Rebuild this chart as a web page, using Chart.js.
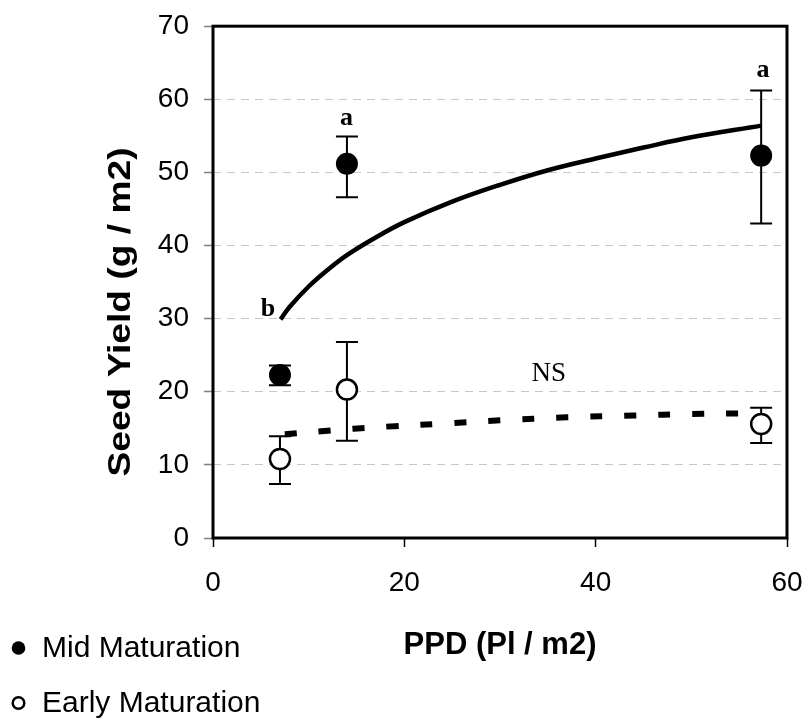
<!DOCTYPE html>
<html>
<head>
<meta charset="utf-8">
<script src="https://cdn.jsdelivr.net/npm/chart.js@4.4.1/dist/chart.umd.min.js"></script>
<style>
  html, body { margin: 0; padding: 0; background: #fff; }
  #wrap { width: 806px; height: 719px; }
</style>
</head>
<body>
<div id="wrap"><canvas id="chart"></canvas></div>
<script>
// plant density (x) for the measured points
const PPD = [7, 14, 57.3];

// mid maturation: mean and error bar ends
const MID_YIELD = [22.3, 51.2, 52.3];
const MID_LOW = [20.9, 46.6, 43.0];
const MID_HIGH = [23.6, 54.9, 61.2];

// early maturation
const EARLY_YIELD = [10.8, 20.3, 15.6];
const EARLY_LOW = [7.4, 13.3, 13.0];
const EARLY_HIGH = [13.9, 26.8, 17.8];

// fitted curves
const MID_FIT_X = [7.06, 8, 10, 12, 14, 17, 20, 25, 30, 35, 40, 45, 50, 57.3];
const MID_FIT_Y = [29.9, 31.6, 34.4, 36.7, 38.7, 41.1, 43.2, 46.0, 48.3, 50.3, 51.9, 53.4, 54.8, 56.4];
const EARLY_FIT_X = [7.5, 11.3, 14.7, 19, 24, 30, 37, 44, 50, 55.5];
const EARLY_FIT_Y = [14.2, 14.6, 14.95, 15.3, 15.65, 16.1, 16.5, 16.75, 16.95, 17.05];

// significance letters
const NOTE_TEXT = ['a', 'a', 'b', 'NS'];
const NOTE_X = [13.96, 57.5, 5.74, 35.1];
const NOTE_Y = [57.4, 64.0, 31.3, 22.5];
const NOTE_BOLD = [true, true, true, false];

const LEGEND_LABELS = ['Mid Maturation', 'Early Maturation'];

const SANS = '"Liberation Sans", Arial, sans-serif';
const SERIF = '"Liberation Serif", "Times New Roman", serif';

const toPoints = (xs, ys) => xs.map((x, i) => ({ x: x, y: ys[i] }));

const decorations = {
  id: 'decorations',
  beforeDatasetsDraw: (chart) => {
    const { ctx, chartArea, scales: { x, y } } = chart;
    ctx.save();
    // plot frame
    ctx.strokeStyle = '#000';
    ctx.lineWidth = 3;
    ctx.strokeRect(chartArea.left, chartArea.top, chartArea.right - chartArea.left, chartArea.bottom - chartArea.top);

    // error bars
    ctx.lineWidth = 2;
    [[MID_LOW, MID_HIGH], [EARLY_LOW, EARLY_HIGH]].forEach(([lo, hi]) => {
      PPD.forEach((v, i) => {
        const px = x.getPixelForValue(v);
        const top = y.getPixelForValue(hi[i]);
        const bot = y.getPixelForValue(lo[i]);
        ctx.beginPath();
        ctx.moveTo(px, top);
        ctx.lineTo(px, bot);
        ctx.moveTo(px - 11, top);
        ctx.lineTo(px + 11, top);
        ctx.moveTo(px - 11, bot);
        ctx.lineTo(px + 11, bot);
        ctx.stroke();
      });
    });
    ctx.restore();
  },
  afterDraw: (chart) => {
    const { ctx, scales: { x, y } } = chart;
    ctx.save();
    ctx.fillStyle = '#000';
    ctx.textAlign = 'center';
    ctx.textBaseline = 'middle';

    NOTE_TEXT.forEach((t, i) => {
      ctx.font = (NOTE_BOLD[i] ? 'bold 26px ' : '27px ') + SERIF;
      ctx.fillText(t, x.getPixelForValue(NOTE_X[i]), y.getPixelForValue(NOTE_Y[i]));
    });

    // y axis title, a bit below the middle of the axis and drawn long
    ctx.save();
    ctx.translate(121, 312);
    ctx.rotate(-Math.PI / 2);
    ctx.font = 'bold 31px ' + SANS;
    const w = ctx.measureText('Seed Yield (g / m2)').width;
    ctx.scale(329 / w, 1);
    ctx.fillText('Seed Yield (g / m2)', 0, 0);
    ctx.restore();

    // legend, stacked at the bottom left
    ctx.textAlign = 'left';
    ctx.font = '30px ' + SANS;
    ctx.beginPath();
    ctx.arc(18.5, 648, 6.8, 0, 2 * Math.PI);
    ctx.fill();
    ctx.fillText(LEGEND_LABELS[0], 42, 649);

    ctx.beginPath();
    ctx.lineWidth = 2.5;
    ctx.strokeStyle = '#000';
    ctx.arc(18.5, 703, 5.8, 0, 2 * Math.PI);
    ctx.stroke();
    ctx.fillText(LEGEND_LABELS[1], 42, 704);
    ctx.restore();
  },
};

new Chart(document.getElementById('chart'), {
  type: 'scatter',
  data: {
    datasets: [
      {
        label: 'Mid fit',
        data: toPoints(MID_FIT_X, MID_FIT_Y),
        showLine: true,
        borderColor: '#000',
        borderWidth: 4.5,
        pointRadius: 0,
        tension: 0.4,
        order: 2,
      },
      {
        label: 'Early fit',
        data: toPoints(EARLY_FIT_X, EARLY_FIT_Y),
        showLine: true,
        borderColor: '#000',
        borderWidth: 6,
        borderDash: [12, 22],
        borderCapStyle: 'butt',
        pointRadius: 0,
        tension: 0.4,
        order: 2,
      },
      {
        label: LEGEND_LABELS[0],
        data: toPoints(PPD, MID_YIELD),
        pointRadius: 11,
        pointBackgroundColor: '#000',
        pointBorderColor: '#000',
        pointBorderWidth: 0,
        order: 1,
      },
      {
        label: LEGEND_LABELS[1],
        data: toPoints(PPD, EARLY_YIELD),
        pointRadius: 10,
        pointBackgroundColor: '#fff',
        pointBorderColor: '#000',
        pointBorderWidth: 2.5,
        order: 1,
      },
    ],
  },
  plugins: [decorations],
  options: {
    responsive: true,
    maintainAspectRatio: false,
    animation: false,
    layout: { padding: { top: 0, right: 19, left: 0, bottom: 0 } },
    plugins: {
      legend: { display: false },
      tooltip: { enabled: false },
    },
    scales: {
      x: {
        type: 'linear',
        min: 0,
        max: 60,
        afterFit: (s) => { s.height = 181; },
        ticks: {
          stepSize: 20,
          color: '#000',
          padding: 2,
          maxRotation: 0,
          // tall line box pushes the labels down without widening the side padding
          font: { family: SANS, size: 28, lineHeight: 2.43 },
        },
        grid: {
          drawOnChartArea: false,
          tickLength: 9,
          tickColor: '#000',
          tickWidth: 1.5,
        },
        border: { display: false },
        title: {
          display: true,
          text: 'PPD (Pl / m2)',
          color: '#000',
          font: { family: SANS, size: 31, weight: 'bold' },
          padding: { top: 0, bottom: 55 },
        },
      },
      y: {
        min: 0,
        max: 70,
        afterFit: (s) => { s.width = 213; },
        ticks: {
          stepSize: 10,
          color: '#000',
          padding: 15,
          font: { family: SANS, size: 28, lineHeight: 0.8 },
        },
        grid: {
          color: (c) => {
            const v = c.tick ? c.tick.value : null;
            return v === 0 || v === 70 ? 'rgba(0,0,0,0)' : '#c8c8c8';
          },
          lineWidth: 1,
          tickLength: 9,
          tickColor: '#808080',
          tickWidth: 1.5,
        },
        border: { display: false, dash: [8, 6] },
      },
    },
  },
});
</script>
</body>
</html>
